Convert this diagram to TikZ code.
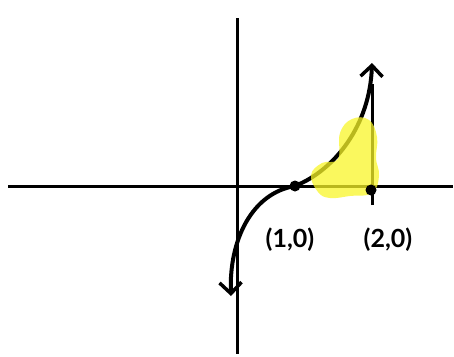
\documentclass[tikz,border=0pt]{standalone}
\usepackage{fontspec}
\setmainfont{Lato}
\usetikzlibrary{arrows.meta}
\definecolor{marker}{RGB}{248,245,40}
\tikzset{
  axis/.style={line width=3pt},
  curve/.style={line width=4pt, line cap=round, line join=round},
  tip/.style={-{Straight Barb[length=11pt,width=22pt,line width=3.5pt]}},
  dot/.style={circle, fill, inner sep=0pt, minimum size=11pt},
  lbl/.style={font=\fontsize{25}{25}\selectfont\bfseries},
}
\begin{document}
\begin{tikzpicture}[x=1pt,y=-1pt]
\useasboundingbox (0,0) rectangle (454,356);
% axes
\draw[axis] (8,186) -- (453,186);
\draw[axis] (237,18) -- (237,354);
% points on the x axis
\node[dot] (one) at (295,186) {};
\node[lbl] (onelbl) at (290,240) {(1,0)};
\node[lbl] (twolbl) at (388,240) {(2,0)};
\coordinate (top) at (372,63);
\coordinate (low) at (231,296);
\coordinate (stem) at (372,84);
% the curve and the line x=2
\draw[axis] (372,205) -- (stem);
\draw[curve,tip] (one.center) .. controls (335,170) and (370,125) .. (top);
\draw[curve,tip] (one.center) .. controls (252,193) and (229,240) .. (low);
% highlighted area
\fill[marker, opacity=0.75] plot[smooth cycle, tension=0.7] coordinates {
  (318,192) (311,175) (322,163) (338,159) (340,133) (352,119) (369,120)
  (377,137) (376,158) (379,176) (372,193) (350,196) (330,198)};
\node[dot] (two) at (371,190) {};
\end{tikzpicture}
\end{document}
